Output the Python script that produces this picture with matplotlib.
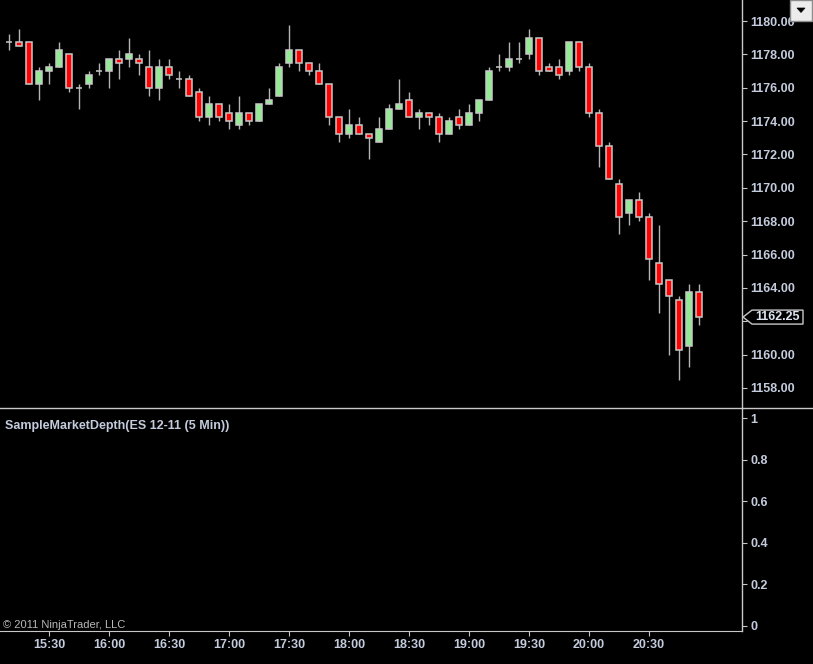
import pandas as pd
import matplotlib
matplotlib.use('Agg')
import matplotlib.pyplot as plt
from matplotlib.lines import Line2D
from matplotlib.patches import Rectangle, Polygon
from matplotlib.transforms import blended_transform_factory

# ES 12-11, 5 minute bars
opens = [1178.75, 1178.75, 1178.75, 1176.25, 1177.0, 1177.25, 1178.0, 1176.0, 1176.25, 1177.0,
         1177.0, 1177.75, 1177.75, 1177.75, 1177.25, 1176.0, 1177.25, 1176.5, 1176.5, 1175.75,
         1174.25, 1175.0, 1174.5, 1173.75, 1174.5, 1174.0, 1175.0, 1175.5, 1177.5, 1178.25,
         1177.5, 1177.0, 1176.25, 1174.25, 1173.25, 1173.75, 1173.25, 1172.75, 1173.5, 1174.75,
         1175.25, 1174.25, 1174.5, 1174.25, 1173.25, 1174.25, 1173.75, 1174.5, 1175.25, 1177.25,
         1177.25, 1177.75, 1178.0, 1179.0, 1177.25, 1177.25, 1177.0, 1178.75, 1177.25, 1174.5,
         1172.5, 1170.25, 1168.5, 1169.25, 1168.25, 1165.5, 1164.5, 1163.25, 1160.5, 1163.75]
highs = [1179.25, 1179.5, 1178.75, 1177.25, 1177.5, 1178.75, 1178.0, 1176.25, 1177.0, 1177.5,
         1177.75, 1178.25, 1179.0, 1178.0, 1178.25, 1177.75, 1177.75, 1177.0, 1176.75, 1176.0,
         1175.5, 1175.0, 1175.0, 1175.5, 1174.5, 1175.0, 1176.0, 1177.5, 1179.75, 1178.25,
         1177.5, 1177.5, 1176.25, 1174.25, 1174.75, 1174.25, 1173.25, 1174.25, 1175.0, 1176.5,
         1175.75, 1174.75, 1174.5, 1174.5, 1174.25, 1174.75, 1175.0, 1175.25, 1177.25, 1178.0,
         1178.75, 1178.75, 1179.5, 1179.0, 1177.5, 1177.75, 1178.75, 1178.75, 1177.5, 1174.75,
         1172.75, 1170.5, 1169.25, 1169.75, 1168.5, 1167.75, 1164.5, 1163.5, 1164.25, 1164.25]
lows = [1178.25, 1178.5, 1176.25, 1175.25, 1176.25, 1177.25, 1175.75, 1174.75, 1176.0, 1176.75,
        1176.0, 1176.5, 1177.25, 1176.75, 1175.5, 1175.25, 1176.5, 1176.0, 1175.5, 1174.0,
        1173.75, 1174.0, 1173.5, 1173.5, 1173.75, 1174.0, 1175.0, 1175.5, 1177.25, 1177.0,
        1176.75, 1176.25, 1173.75, 1172.75, 1173.0, 1173.25, 1171.75, 1172.75, 1173.5, 1174.75,
        1174.25, 1173.5, 1173.75, 1172.75, 1173.25, 1173.5, 1173.75, 1174.0, 1175.25, 1177.0,
        1177.0, 1177.5, 1177.75, 1176.75, 1177.0, 1176.5, 1176.75, 1177.0, 1174.25, 1171.25,
        1170.5, 1167.25, 1167.75, 1168.0, 1164.5, 1162.5, 1160.0, 1158.5, 1159.25, 1161.75]
closes = [1178.75, 1178.5, 1176.25, 1177.0, 1177.25, 1178.25, 1176.0, 1176.0, 1176.75, 1177.0,
          1177.75, 1177.5, 1178.0, 1177.5, 1176.0, 1177.25, 1176.75, 1176.5, 1175.5, 1174.25,
          1175.0, 1174.25, 1174.0, 1174.5, 1174.0, 1175.0, 1175.25, 1177.25, 1178.25, 1177.5,
          1177.0, 1176.25, 1174.25, 1173.25, 1173.75, 1173.25, 1173.0, 1173.5, 1174.75, 1175.0,
          1174.25, 1174.5, 1174.25, 1173.25, 1174.0, 1173.75, 1174.5, 1175.25, 1177.0, 1177.25,
          1177.75, 1177.75, 1179.0, 1177.0, 1177.0, 1176.75, 1178.75, 1177.25, 1174.5, 1172.5,
          1170.5, 1168.25, 1169.25, 1168.25, 1165.75, 1164.25, 1163.5, 1160.25, 1163.75, 1162.25]
times = pd.date_range('2011-10-31 15:10', periods=len(closes), freq='5min')

price_ticks = [1158, 1160, 1162, 1164, 1166, 1168, 1170, 1172, 1174, 1176, 1178, 1180]
depth_ticks = [0, 0.2, 0.4, 0.6, 0.8, 1]
last_price = closes[-1]

W, H = 813, 664
TXT = '#c3cbdc'
LINE = '#c8c8c8'
plt.rcParams['font.family'] = ['Liberation Sans', 'DejaVu Sans']


def fr(x0, y0, x1, y1):
    # pixel box (top-left origin) -> figure fractions
    return [x0 / W, 1 - y1 / H, (x1 - x0) / W, (y1 - y0) / H]


fig = plt.figure(figsize=(W / 100, H / 100), dpi=100, facecolor='black')
ax1 = fig.add_axes(fr(0, 0, 742, 407))
ax2 = fig.add_axes(fr(0, 408, 742, 631), sharex=ax1)

for ax in (ax1, ax2):
    ax.set_facecolor('black')
    for s in ('top', 'left', 'bottom'):
        ax.spines[s].set_visible(False)
    ax.spines['right'].set_color(LINE)
    ax.spines['right'].set_linewidth(1)
    ax.yaxis.tick_right()
    ax.tick_params(axis='y', colors=LINE, labelcolor=TXT, length=3.6, width=0.8, pad=2.2,
                   labelsize=9)

x = list(range(len(closes)))
ax1.vlines(x, lows, highs, color='#b4b4b4', lw=1, zorder=2)
for i in x:
    o, c = opens[i], closes[i]
    if o == c:
        ax1.hlines(c, i - 0.34, i + 0.34, color='#c8c8c8', lw=1.1, zorder=3)
        continue
    col = '#90ee90' if c > o else '#ff0000'
    ax1.bar(i, abs(c - o), bottom=min(o, c), width=0.62, color=col,
            edgecolor='#c8c8c8', linewidth=1.1, zorder=3)

ax1.set_xlim(-0.9, 73.3)
ax1.set_ylim(1156.86, 1181.26)
ax1.set_yticks(price_ticks)
ax1.set_yticklabels([f'{p:.2f}' for p in price_ticks], fontweight='bold')
ax1.tick_params(axis='x', bottom=False, labelbottom=False)

ax2.set_ylim(-0.0256, 1.0497)
ax2.set_yticks(depth_ticks)
ax2.set_yticklabels([f'{v:g}' for v in depth_ticks], fontweight='bold')
ax2.spines['bottom'].set_visible(True)
ax2.spines['bottom'].set_color(LINE)
tick_idx = [i for i, t in enumerate(times) if t.minute % 30 == 0]
ax2.set_xticks(tick_idx)
ax2.set_xticklabels([times[i].strftime('%H:%M') for i in tick_idx], fontweight='bold')
ax2.tick_params(axis='x', colors=LINE, labelcolor=TXT, length=3.6, width=0.8, pad=2.5,
                labelsize=9)

ax2.text(5 / 742, 1 - (426.5 - 408) / 223, 'SampleMarketDepth(ES 12-11 (5 Min))',
         transform=ax2.transAxes, color=TXT, fontsize=9, fontweight='bold', va='center')
ax2.text(3 / 742, 1 - (625.5 - 408) / 223, '\u00a9 2011 NinjaTrader, LLC',
         transform=ax2.transAxes, color='#b8b8b8', fontsize=8, va='center')

# panel separator
fig.add_artist(Line2D([0, 1], [1 - 407.5 / H] * 2, transform=fig.transFigure, color=LINE, lw=1))

# last price marker, covers the 1162.00 tick label like the original
for lab in ax1.get_yticklabels():
    if lab.get_text() == '1162.00':
        lab.set_visible(False)
tr = blended_transform_factory(fig.transFigure, ax1.transData)
hh = 7 / 16.68
marker = Polygon([(743 / W, last_price), (752 / W, last_price + hh), (803 / W, last_price + hh),
                  (803 / W, last_price - hh), (752 / W, last_price - hh)],
                 closed=True, transform=tr, facecolor='black', edgecolor=LINE, lw=1,
                 clip_on=False, zorder=10)
fig.add_artist(marker)
fig.text(777.5 / W, 0, f'{last_price:.2f}', transform=tr, ha='center', va='center',
         color='#dde4f0', fontsize=9, fontweight='bold', zorder=11).set_y(last_price)

# drop-down button in the corner
fig.add_artist(Rectangle((790 / W, 1 - 21 / H), 22 / W, 21 / H, transform=fig.transFigure,
                         facecolor='#ececec', edgecolor='#8c8c8c', lw=1, zorder=12))
fig.add_artist(Polygon([(797 / W, 1 - 8 / H), (805 / W, 1 - 8 / H), (801 / W, 1 - 12.5 / H)],
                       closed=True, transform=fig.transFigure, facecolor='black',
                       edgecolor='black', lw=0.5, zorder=13))

fig.savefig('out.png', dpi=100, facecolor='black')
